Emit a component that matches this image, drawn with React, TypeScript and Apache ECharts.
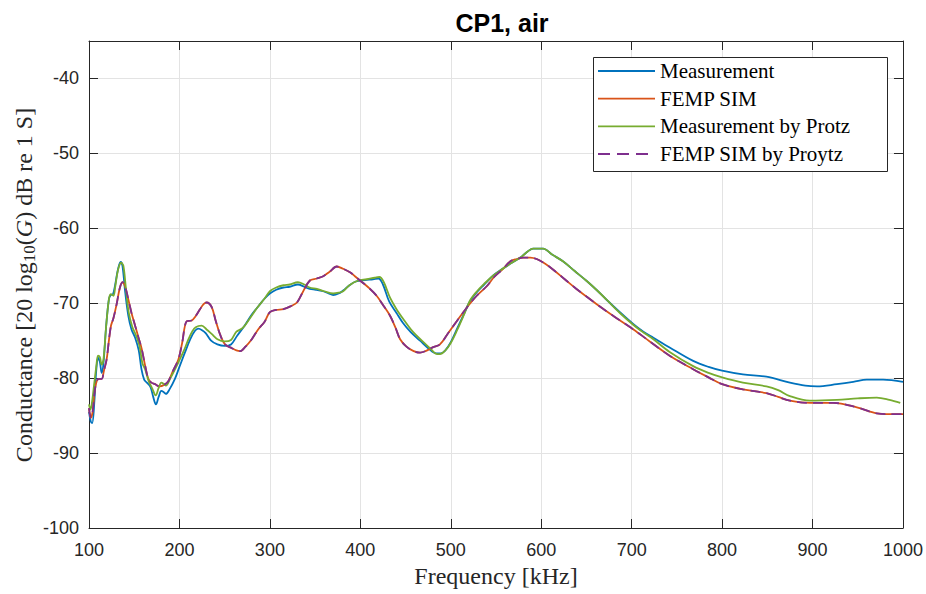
import React, { useEffect, useRef } from "react";
import * as echarts from "echarts";

const titleText = "CP1, air";
const xTicks = [100, 200, 300, 400, 500, 600, 700, 800, 900, 1000];
const yTicks = [-100, -90, -80, -70, -60, -50, -40];
const seriesNames = ["Measurement", "FEMP SIM", "Measurement by Protz", "FEMP SIM by Proytz"];

const measurement: number[][] = [
  [100,-84.5],[102,-85.8],[103.5,-86.0],[106,-83],[108,-79],[110,-77.3],[112,-77.8],[114,-79.3],[116,-78],[119,-73],[122,-69.5],[124,-68.9],[126.5,-68.8],[129,-67.5],[132,-65.5],[135,-64.5],[137,-65],[140,-68.5],[143.5,-71.7],[147,-73.5],[151,-74.6],[155,-76.3],[158,-78.8],[161,-80.2],[164,-80.6],[168,-81.2],[171,-82.5],[174,-83.5],[177,-82.5],[180,-81.7],[183,-81.9],[185,-82.1],[189,-81.5],[195,-80.1],[200,-78.5],[206,-76.6],[212,-74.8],[217,-73.7],[221,-73.4],[225,-73.6],[229,-74.0],[235,-75.0],[242,-75.5],[250,-75.7],[257,-75.5],[264,-74.3],[272,-73.0],[280,-71.5],[288,-70.3],[294,-69.4],[300,-68.7],[307,-68.2],[315,-67.9],[322,-67.8],[331,-67.5],[338,-67.8],[344,-68.1],[351,-68.2],[359,-68.4],[365,-68.7],[370,-68.9],[376,-68.7],[381,-68.3],[388,-67.6],[395,-67.1],[405,-66.9],[414,-66.8],[420,-66.7],[425,-67.5],[432,-69.8],[440,-71.3],[447,-72.6],[456,-73.9],[466,-75.0],[475,-76.0],[484,-76.7],[489,-76.7],[494,-76.3],[500,-75.2],[507,-73.4],[514,-71.6],[521,-69.8],[529,-68.5],[537,-67.5],[547,-66.3],[555,-65.6],[566,-64.7],[577,-63.9],[585,-63.1],[591,-62.7],[602,-62.7],[612,-63.5],[624,-64.4],[637,-65.7],[650,-67.0],[661,-68.2],[672,-69.5],[687,-71.2],[702,-72.8],[713,-73.8],[724,-74.6],[742,-75.9],[768,-77.7],[785,-78.5],[800,-79.0],[823,-79.5],[849,-79.8],[875,-80.6],[892,-81.0],[905,-81.1],[927,-80.8],[945,-80.5],[960,-80.2],[978,-80.2],[1000,-80.5]
];

const femSim: number[][] = [
  [100,-84.0],[102,-85.3],[104,-84.5],[106,-82],[108.5,-80.4],[111,-80.1],[114,-80.1],[116.5,-79],[119.5,-77.5],[122,-75],[124.3,-73],[127,-72],[130.6,-70.1],[134,-68],[137,-67.2],[140,-67.8],[143.5,-69.5],[147,-71.3],[151,-73.0],[155,-74.7],[158.3,-76.1],[162,-78.3],[165.6,-80.1],[169,-80.6],[173,-80.8],[178,-81.1],[183,-80.9],[187.7,-80.4],[193,-79],[198.8,-77.5],[203,-75.3],[208,-72.4],[213.5,-72.3],[218,-71.7],[222.7,-70.8],[227,-70.1],[230,-69.9],[235.6,-70.5],[240,-72.3],[245,-74.2],[250.4,-75.5],[258,-76.0],[263,-76.3],[267,-76.4],[273,-75.8],[280,-74.8],[287,-73.5],[294,-72.5],[300,-71.2],[307,-70.9],[315,-70.8],[323,-70.4],[330,-69.9],[336,-68.6],[344,-67.0],[352,-66.7],[359,-66.4],[366,-65.8],[374,-65.1],[381,-65.4],[389,-65.9],[394,-66.4],[400,-67.0],[409,-67.9],[418,-69.0],[426,-70.4],[433,-71.7],[439,-73.3],[444,-74.8],[451,-75.8],[459,-76.4],[466,-76.6],[472,-76.4],[480,-75.9],[488,-75.5],[497,-74.0],[506.6,-72.4],[517,-70.7],[528.7,-69.0],[540,-67.7],[548,-66.5],[557,-65.5],[566,-64.4],[573,-64.1],[580,-63.9],[588,-63.9],[595,-64.1],[604,-64.7],[613,-65.5],[626,-66.8],[639,-68.1],[650,-69.1],[661,-70.1],[681,-71.8],[702,-73.5],[720,-75.1],[742,-77.0],[768,-78.8],[785,-79.9],[800,-80.8],[823,-81.5],[849,-82.0],[862,-82.5],[875,-83.0],[897,-83.3],[923,-83.3],[949,-83.9],[971,-84.7],[985,-84.8],[1000,-84.8]
];

const measurementProtz: number[][] = [
  [100,-83.5],[101.5,-84.2],[103,-83.5],[106,-80.5],[108,-78.5],[110,-77],[112,-77.2],[114,-78.2],[116,-77.5],[119,-73],[122,-69.5],[124,-68.8],[127,-69],[129,-67.8],[132,-65.6],[135.5,-64.6],[138,-65],[141,-68.3],[144,-71.3],[148,-73.2],[152,-74.3],[156,-75.8],[159,-78.0],[162,-78.8],[166,-80.4],[170,-81.4],[173.7,-82.3],[177,-81.3],[180,-80.6],[183,-80.8],[185,-81.0],[190,-80.0],[198.8,-77.9],[205,-76.3],[210,-74.8],[214,-73.8],[218,-73.2],[224.6,-73.0],[230,-73.5],[235.6,-74.1],[242,-74.8],[250,-75.1],[257,-74.9],[263,-73.8],[270,-73.3],[278,-72.0],[286,-70.6],[294,-69.4],[300,-68.4],[307,-67.9],[315,-67.6],[322,-67.5],[331,-67.2],[338,-67.5],[344,-67.9],[352,-68.1],[360,-68.4],[370,-68.7],[376,-68.6],[381,-68.4],[388,-67.6],[397,-67.0],[407,-66.8],[416,-66.6],[421,-66.5],[426,-67.2],[433,-69.3],[440,-70.8],[448,-72.2],[458,-73.8],[468,-75.0],[477,-76.0],[483,-76.7],[488,-76.8],[494,-76.3],[500,-75.3],[507,-73.6],[514,-71.7],[521,-69.7],[529,-68.4],[537,-67.4],[547,-66.3],[555,-65.6],[566,-64.7],[577,-63.9],[585,-63.1],[591,-62.7],[602,-62.7],[612,-63.5],[624,-64.4],[637,-65.7],[650,-67.0],[661,-68.2],[672,-69.5],[687,-71.3],[702,-72.9],[713,-73.9],[724,-74.8],[742,-76.5],[768,-78.4],[785,-79.3],[800,-79.9],[823,-80.6],[849,-81.1],[862,-81.6],[875,-82.4],[897,-83.0],[927,-82.9],[950,-82.7],[971,-82.6],[985,-82.9],[997,-83.3]
];

const femSimProytz: number[][] = [
  [100,-84.0],[102,-85.3],[104,-84.5],[106,-82],[108.5,-80.4],[111,-80.1],[114,-80.1],[116.5,-79],[119.5,-77.5],[122,-75],[124.3,-73],[127,-72],[130.6,-70.1],[134,-68],[137,-67.2],[140,-67.8],[143.5,-69.5],[147,-71.3],[151,-73.0],[155,-74.7],[158.3,-76.1],[162,-78.3],[165.6,-80.1],[169,-80.6],[173,-80.8],[178,-81.1],[183,-80.9],[187.7,-80.4],[193,-79],[198.8,-77.5],[203,-75.3],[208,-72.4],[213.5,-72.3],[218,-71.7],[222.7,-70.8],[227,-70.1],[230,-69.9],[235.6,-70.5],[240,-72.3],[245,-74.2],[250.4,-75.5],[258,-76.0],[263,-76.3],[267,-76.4],[273,-75.8],[280,-74.8],[287,-73.5],[294,-72.5],[300,-71.2],[307,-70.9],[315,-70.8],[323,-70.4],[330,-69.9],[336,-68.6],[344,-67.0],[352,-66.7],[359,-66.4],[366,-65.8],[374,-65.1],[381,-65.4],[389,-65.9],[394,-66.4],[400,-67.0],[409,-67.9],[418,-69.0],[426,-70.4],[433,-71.7],[439,-73.3],[444,-74.8],[451,-75.8],[459,-76.4],[466,-76.6],[472,-76.4],[480,-75.9],[488,-75.5],[497,-74.0],[506.6,-72.4],[517,-70.7],[528.7,-69.0],[540,-67.7],[548,-66.5],[557,-65.5],[566,-64.4],[573,-64.1],[580,-63.9],[588,-63.9],[595,-64.1],[604,-64.7],[613,-65.5],[626,-66.8],[639,-68.1],[650,-69.1],[661,-70.1],[681,-71.8],[702,-73.5],[720,-75.1],[742,-77.0],[768,-78.8],[785,-79.9],[800,-80.8],[823,-81.5],[849,-82.0],[862,-82.5],[875,-83.0],[897,-83.3],[923,-83.3],[949,-83.9],[971,-84.7],[985,-84.8],[1000,-84.8]
];

const colors = ["#0072BD", "#D95319", "#77AC30", "#7E2F8E"];
const dashedFlags = [false, false, false, true];
const axisColor = "#262626";
const gridColor = "#e3e3e3";
const sans = "'Liberation Sans', Arial, Helvetica, sans-serif";
const serif = "'Liberation Serif', 'Times New Roman', serif";

export default function App() {
  const ref = useRef<HTMLDivElement>(null);
  useEffect(() => {
    if (!ref.current) return;
    const chart = echarts.init(ref.current, null, { renderer: "svg" });
    const xMin = xTicks[0];
    const xMax = xTicks[xTicks.length - 1];
    const yMin = yTicks[0];
    const baseX = { type: "value" as const, min: xMin, max: xMax, interval: 100 };
    const baseY = { type: "value" as const, min: yMin, max: -35, interval: 10 };
    const mk = (i: number, data: number[][]) => ({
      name: seriesNames[i],
      type: "line" as const,
      data,
      showSymbol: false,
      symbol: "none",
      smooth: 0.35,
      z: 2,
      lineStyle: { color: colors[i], width: 1.8, type: dashedFlags[i] ? [10, 6] : "solid" },
      itemStyle: { color: colors[i] },
    });
    const tickCommon = { show: true, inside: true, length: 9, lineStyle: { color: axisColor } };

    const legendBox = { x: 593.5, y: 57.5, w: 294, h: 114 };
    const rowY = [71, 98.7, 126.3, 154];
    const legendGraphics: any[] = [
      {
        type: "rect",
        z: 5,
        shape: { x: legendBox.x, y: legendBox.y, width: legendBox.w, height: legendBox.h },
        style: { fill: "#ffffff", stroke: axisColor, lineWidth: 1 },
      },
    ];
    seriesNames.forEach((name, i) => {
      legendGraphics.push({
        type: "line",
        z: 6,
        shape: { x1: 598, y1: rowY[i], x2: 655, y2: rowY[i] },
        style: {
          stroke: colors[i],
          lineWidth: 1.8,
          lineDash: dashedFlags[i] ? [12, 7] : null,
        },
      });
      legendGraphics.push({
        type: "text",
        z: 6,
        x: 660,
        y: rowY[i],
        style: {
          text: name,
          fontFamily: serif,
          fontSize: 21,
          fill: "#000",
          align: "left",
          verticalAlign: "middle",
        },
      });
    });

    chart.setOption({
      animation: false,
      backgroundColor: "#ffffff",
      title: {
        text: titleText,
        left: 497,
        textAlign: "center",
        top: 5,
        textStyle: { fontFamily: sans, fontWeight: "bold", fontSize: 25, color: "#000" },
      },
      grid: { left: 89, right: 23, top: 41, bottom: 66, containLabel: false },
      xAxis: [
        {
          ...baseX,
          position: "bottom",
          axisLine: { show: true, onZero: false, lineStyle: { color: axisColor } },
          axisTick: tickCommon,
          axisLabel: { color: axisColor, fontFamily: sans, fontSize: 18, margin: 13, formatter: (v: number) => String(v) },
          splitLine: { show: true, lineStyle: { color: gridColor, width: 1 } },
          name: "Frequency [kHz]",
          nameLocation: "middle",
          nameGap: 31,
          nameTextStyle: { fontFamily: serif, fontSize: 24, color: axisColor },
        },
        {
          ...baseX,
          position: "top",
          axisLine: { show: true, onZero: false, lineStyle: { color: axisColor } },
          axisTick: tickCommon,
          axisLabel: { show: false },
          splitLine: { show: false },
        },
      ],
      yAxis: [
        {
          ...baseY,
          position: "left",
          axisLine: { show: true, onZero: false, lineStyle: { color: axisColor } },
          axisTick: tickCommon,
          axisLabel: { color: axisColor, fontFamily: sans, fontSize: 18, margin: 10, showMaxLabel: false },
          splitLine: { show: true, lineStyle: { color: gridColor, width: 1 } },
        },
        {
          ...baseY,
          position: "right",
          axisLine: { show: true, onZero: false, lineStyle: { color: axisColor } },
          axisTick: tickCommon,
          axisLabel: { show: false },
          splitLine: { show: false },
        },
      ],
      graphic: [
        ...legendGraphics,
        {
          type: "text",
          x: 24,
          y: 285,
          rotation: Math.PI / 2,
          style: {
            text: "Conductance [20 log{sub|10}({it|G}) dB re 1 S]",
            fontFamily: serif,
            fontSize: 24,
            fill: axisColor,
            align: "center",
            verticalAlign: "middle",
            rich: {
              sub: { fontFamily: serif, fontSize: 17, fill: axisColor, padding: [10, 0, 0, 0] },
              it: { fontFamily: serif, fontSize: 24, fontStyle: "italic", fill: axisColor },
            },
          },
        },
      ],
      series: [
        mk(0, measurement),
        mk(1, femSim),
        mk(2, measurementProtz),
        mk(3, femSimProytz),
      ],
    });
    return () => chart.dispose();
  }, []);
  return <div ref={ref} style={{ width: 926, height: 594, position: "absolute", left: 0, top: 0 }} />;
}
